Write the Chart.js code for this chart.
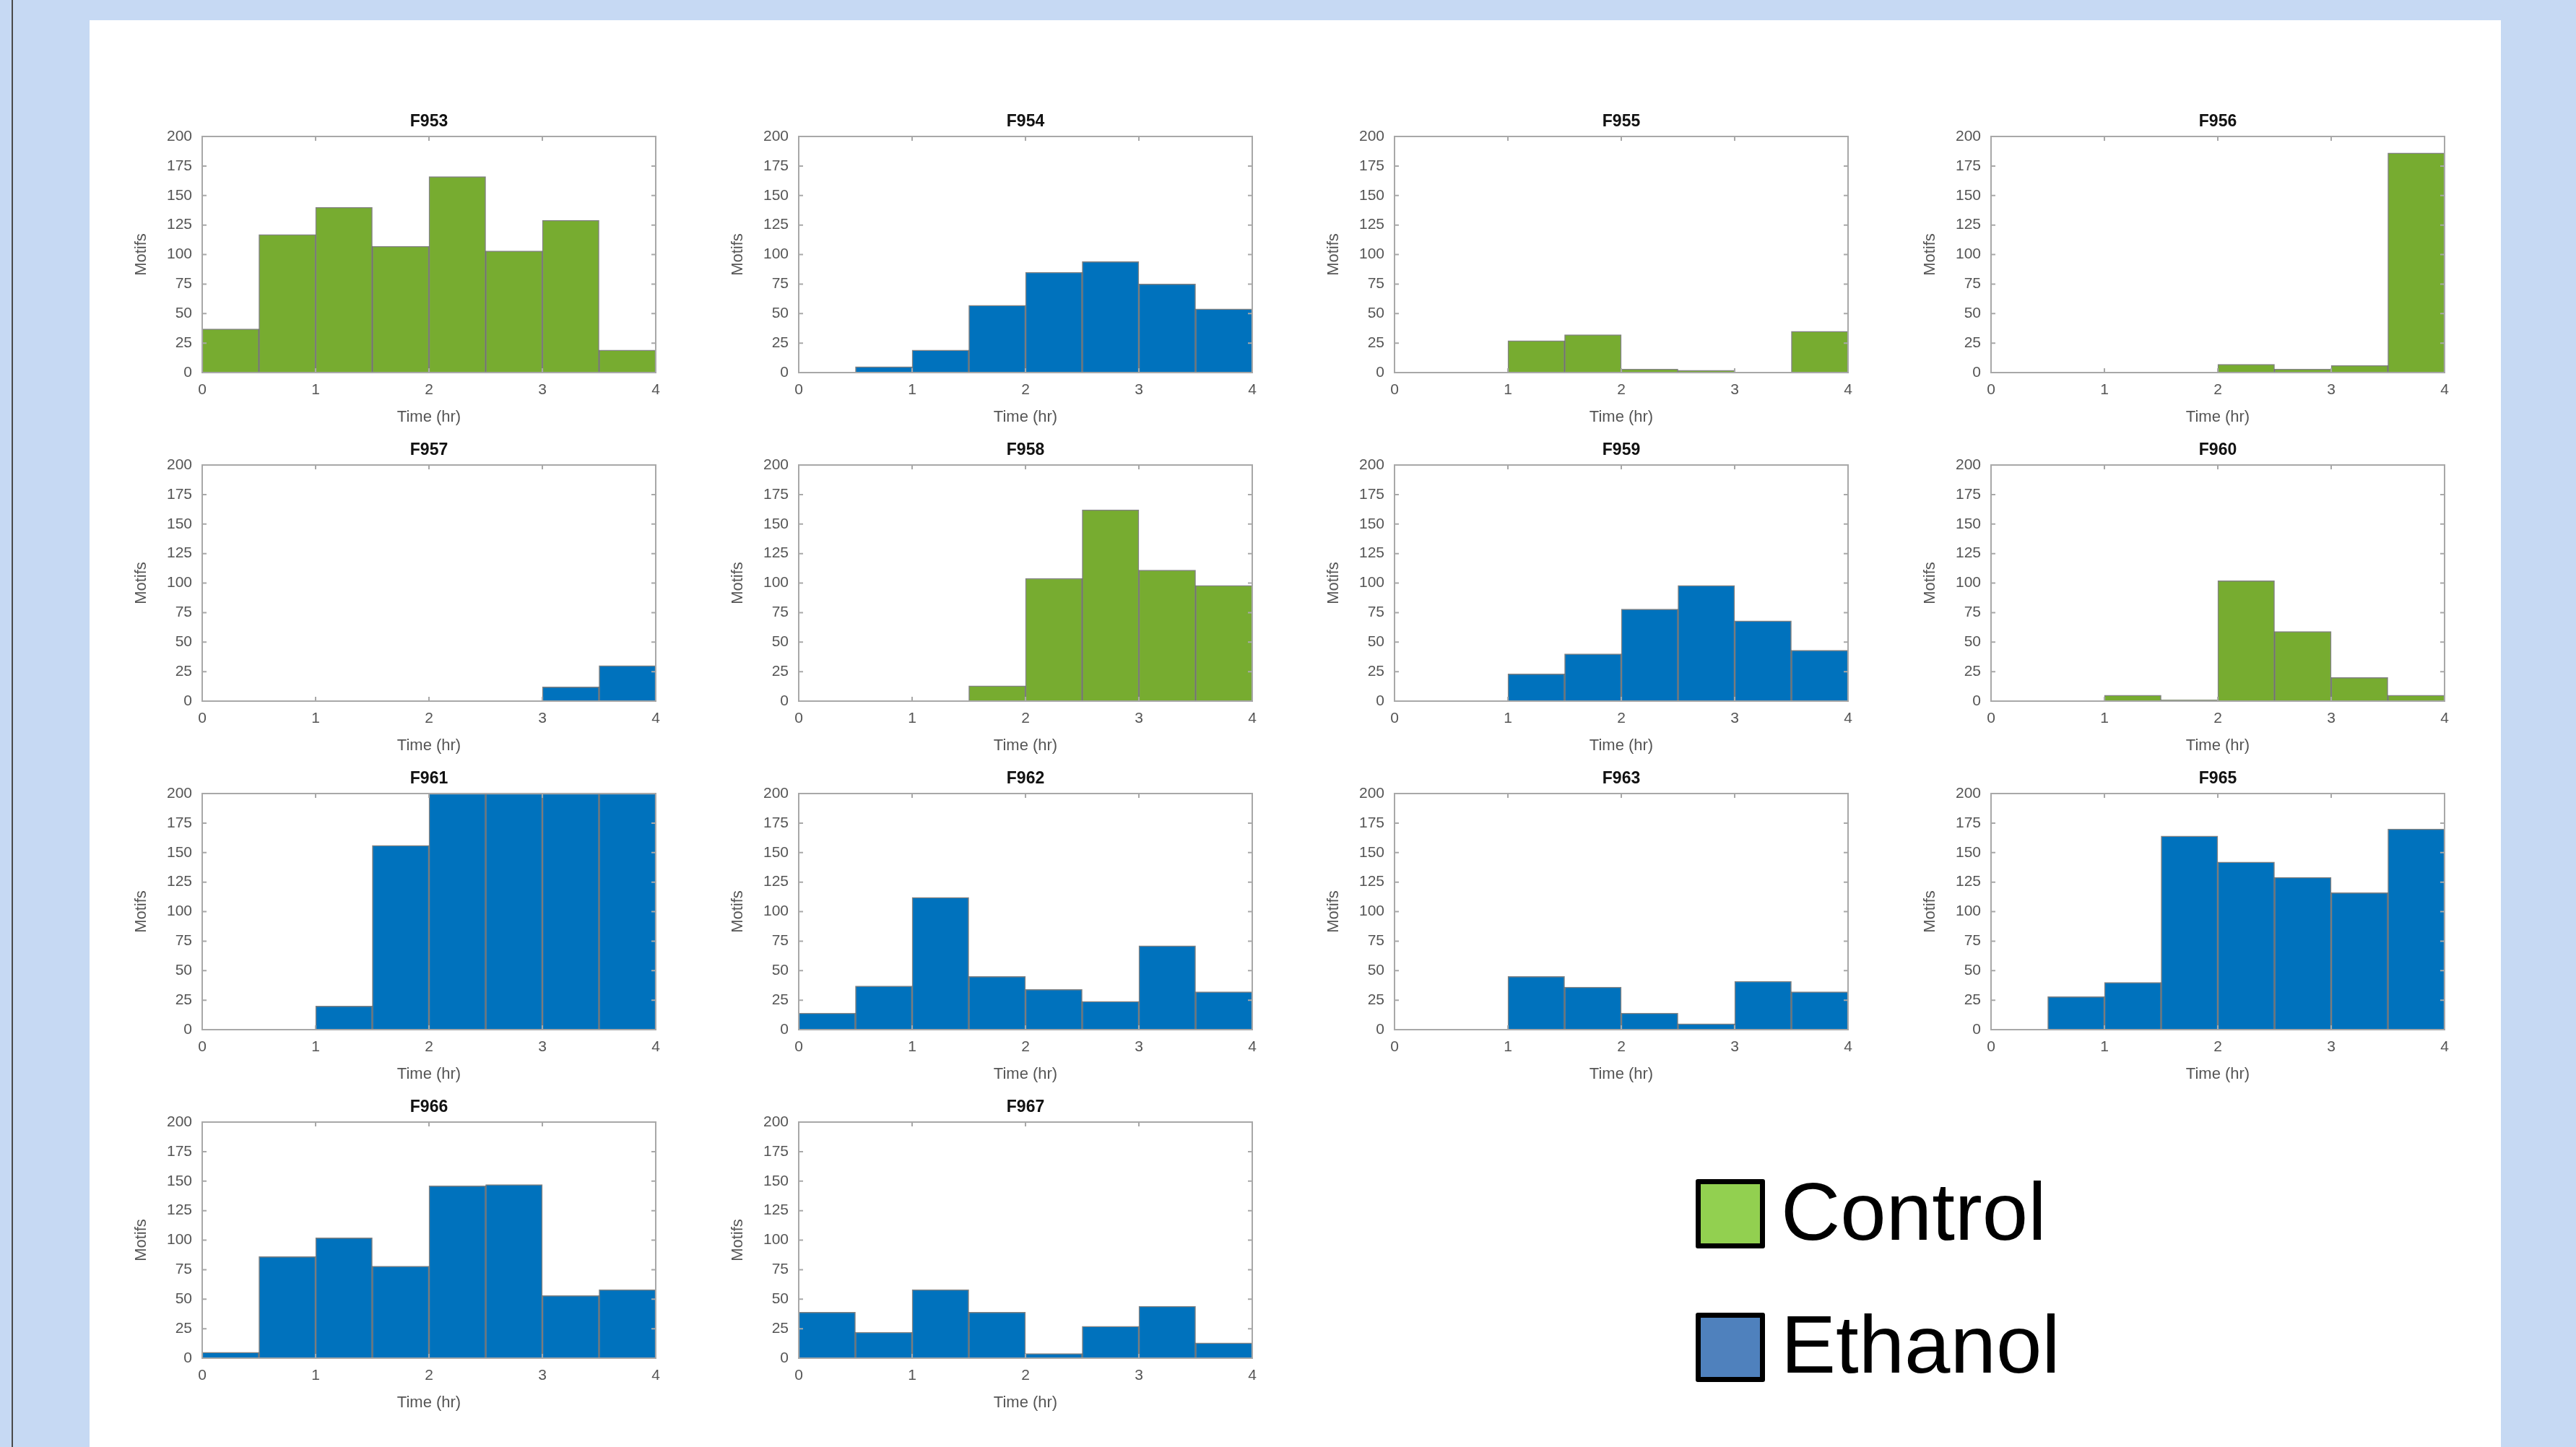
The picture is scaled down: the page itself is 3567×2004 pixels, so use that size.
<!DOCTYPE html>
<html>
<head>
<meta charset="utf-8">
<script src="https://cdn.jsdelivr.net/npm/chart.js@4"></script>
<style>
  html, body { margin: 0; padding: 0; }
  body { width: 3567px; height: 2004px; background: #c6d9f3; position: relative; overflow: hidden; font-family: 'Liberation Sans', Arial, sans-serif; }
  #edge { position: absolute; left: 16px; top: 0; width: 2px; height: 2004px; background: #4a4a4a; }
  #sheet { position: absolute; left: 124px; top: 28px; width: 3339px; height: 1976px; background: #fff; }
  .panel { position: absolute; }
  .key-box { position: absolute; width: 96px; height: 96px; box-sizing: border-box; border: 7px solid #000; border-radius: 3px; }
  .key-text { position: absolute; font-size: 114px; line-height: 114px; color: #000; white-space: nowrap; }
</style>
</head>
<body>
<div id="edge"></div>
<div id="sheet"></div>
<div id="panels"></div>
<div class="key-box" style="left:2348px; top:1633px; background:#92d050;"></div>
<div class="key-text" style="left:2466px; top:1621px;">Control</div>
<div class="key-box" style="left:2348px; top:1818px; background:#4f81bd;"></div>
<div class="key-text" style="left:2466px; top:1805px;">Ethanol</div>

<script>
// histogram bins: 0.5 hr wide, 0 to 4 hr
const binCenters = [0.25, 0.75, 1.25, 1.75, 2.25, 2.75, 3.25, 3.75];
const xTickLabels = [0, 1, 2, 3, 4];
const yTickLabels = [0, 25, 50, 75, 100, 125, 150, 175, 200];

// counts per bin
const f953 = [37, 117, 140, 107, 166, 103, 129, 19];
const f954 = [0, 5, 19, 57, 85, 94, 75, 54];
const f955 = [0, 0, 27, 32, 3, 2, 0, 35];
const f956 = [0, 0, 0, 0, 7, 3, 6, 186];
const f957 = [0, 0, 0, 0, 0, 0, 12, 30];
const f958 = [0, 0, 0, 13, 104, 162, 111, 98];
const f959 = [0, 0, 23, 40, 78, 98, 68, 43];
const f960 = [0, 0, 5, 1, 102, 59, 20, 5];
const f961 = [0, 0, 20, 156, 200, 200, 200, 200];
const f962 = [14, 37, 112, 45, 34, 24, 71, 32];
const f963 = [0, 0, 45, 36, 14, 5, 41, 32];
const f965 = [0, 28, 40, 164, 142, 129, 116, 170];
const f966 = [5, 86, 102, 78, 146, 147, 53, 58];
const f967 = [39, 22, 58, 39, 4, 27, 44, 13];

const panelTitles = ['F953', 'F954', 'F955', 'F956', 'F957', 'F958', 'F959', 'F960',
                     'F961', 'F962', 'F963', 'F965', 'F966', 'F967'];
const panelGroups = ['Control', 'Ethanol', 'Control', 'Control', 'Ethanol', 'Control', 'Ethanol', 'Control',
                     'Ethanol', 'Ethanol', 'Ethanol', 'Ethanol', 'Ethanol', 'Ethanol'];
const panelCounts = [f953, f954, f955, f956, f957, f958, f959, f960, f961, f962, f963, f965, f966, f967];

const groupColors = { Control: '#77ac30', Ethanol: '#0072bd' };

// grid of plot areas
const colLefts = [280, 1106, 1931, 2757];
const rowTops = [189, 644, 1099, 1554];
const plotW = 628;
const plotH = 327;
const padLeft = 130, padTop = 45, padRight = 30, padBottom = 80;

const tickFont = { family: "'Liberation Sans', Arial, sans-serif", size: 21 };
const textColor = '#555';

// MATLAB-ish box with inward ticks plus the panel title
const panelFrame = {
    id: 'panelFrame',
    afterDatasetsDraw(chart, args, opts) {
        const { ctx, chartArea: a, scales } = chart;
        ctx.save();
        ctx.strokeStyle = '#a8a8a8';
        ctx.lineWidth = 2;
        ctx.strokeRect(a.left, a.top, a.right - a.left, a.bottom - a.top);
        ctx.beginPath();
        xTickLabels.forEach(v => {
            const px = scales.x.getPixelForValue(v);
            ctx.moveTo(px, a.bottom); ctx.lineTo(px, a.bottom - 6);
            ctx.moveTo(px, a.top); ctx.lineTo(px, a.top + 6);
        });
        yTickLabels.forEach(v => {
            const py = scales.y.getPixelForValue(v);
            ctx.moveTo(a.left, py); ctx.lineTo(a.left + 6, py);
            ctx.moveTo(a.right, py); ctx.lineTo(a.right - 6, py);
        });
        ctx.stroke();
        ctx.fillStyle = '#111';
        ctx.font = "bold 23px 'Liberation Sans', Arial, sans-serif";
        ctx.textAlign = 'center';
        ctx.textBaseline = 'middle';
        ctx.fillText(opts.title, (a.left + a.right) / 2, a.top - 20);
        ctx.restore();
    }
};

const holder = document.getElementById('panels');

panelTitles.forEach((title, i) => {
    const col = i % 4;
    const row = Math.floor(i / 4);
    const canvas = document.createElement('canvas');
    canvas.className = 'panel';
    canvas.width = padLeft + plotW + padRight;
    canvas.height = padTop + plotH + padBottom;
    canvas.style.left = (colLefts[col] - padLeft) + 'px';
    canvas.style.top = (rowTops[row] - padTop) + 'px';
    holder.appendChild(canvas);

    const counts = panelCounts[i];

    new Chart(canvas, {
        type: 'bar',
        data: {
            datasets: [{
                label: panelGroups[i],
                data: binCenters.map((x, j) => ({ x: x, y: counts[j] })),
                backgroundColor: groupColors[panelGroups[i]],
                borderColor: 'rgba(25, 25, 25, 0.55)',
                borderWidth: 1.5,
                barPercentage: 1,
                categoryPercentage: 1
            }]
        },
        options: {
            responsive: false,
            animation: false,
            devicePixelRatio: 1,
            layout: { padding: { top: padTop, right: padRight, left: 0, bottom: 0 } },
            plugins: {
                legend: { display: false },
                tooltip: { enabled: false },
                title: { display: false },
                panelFrame: { title: title }
            },
            scales: {
                x: {
                    type: 'linear',
                    min: 0,
                    max: 4,
                    offset: false,
                    grid: { display: false, drawTicks: false },
                    border: { display: false },
                    ticks: { stepSize: 1, padding: 12, font: tickFont, color: textColor, maxRotation: 0 },
                    title: { display: true, text: 'Time (hr)', font: { ...tickFont, size: 22 }, color: textColor, padding: { top: 0, bottom: 5 } },
                    afterFit: axis => { axis.height = padBottom; }
                },
                y: {
                    min: 0,
                    max: 200,
                    grid: { display: false, drawTicks: false },
                    border: { display: false },
                    ticks: { stepSize: 25, padding: 14, font: tickFont, color: textColor },
                    title: { display: true, text: 'Motifs', font: { ...tickFont, size: 22 }, color: textColor, padding: { top: 33, bottom: 0 } },
                    afterFit: axis => { axis.width = padLeft; }
                }
            }
        },
        plugins: [panelFrame]
    });
});
</script>
</body>
</html>
